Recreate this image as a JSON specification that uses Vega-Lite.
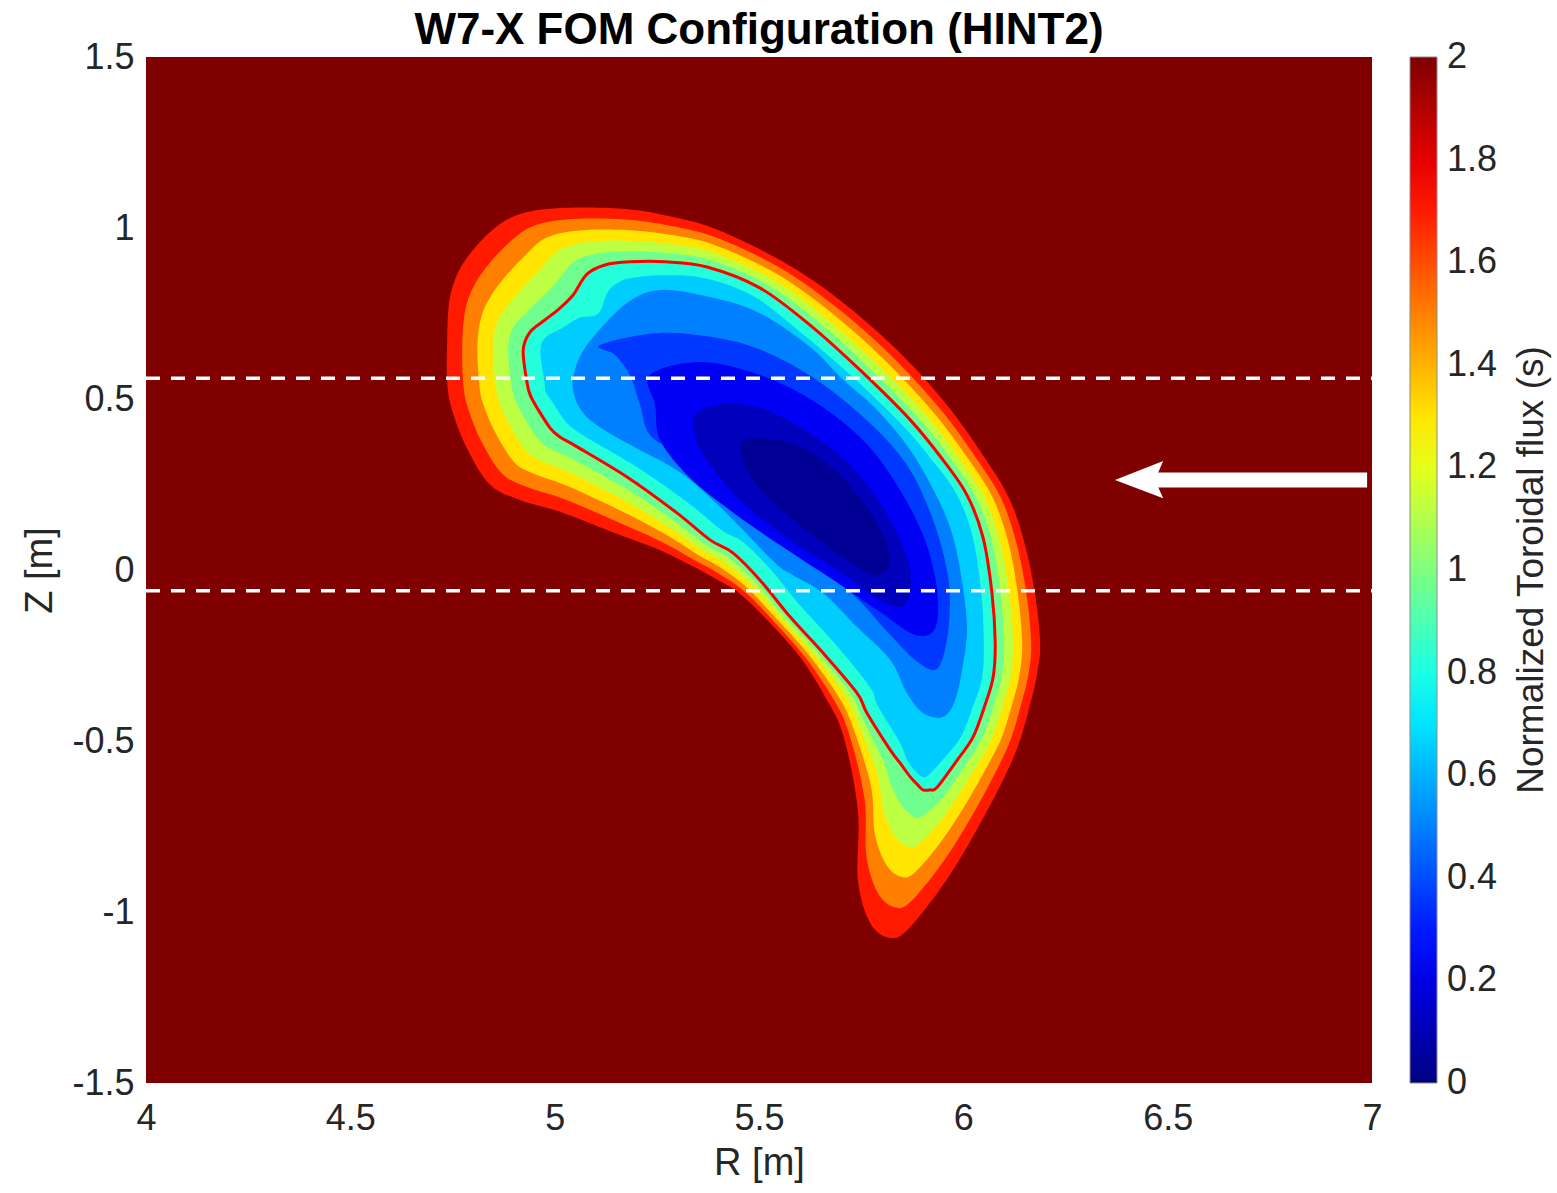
{
"$schema": "https://vega.github.io/schema/vega-lite/v6.json",
"width": 1226, "height": 1026,
"autosize": {"type": "none"},
"padding": {"left": 146, "top": 57, "right": 185, "bottom": 110},
"title": {"text": "W7-X FOM Configuration (HINT2)", "fontSize": 44, "fontWeight": "bold", "color": "#000000", "anchor": "middle", "offset": -14, "font": "Liberation Sans"},
"config": {"font": "Liberation Sans", "view": {"stroke": null},
  "axis": {"grid": false, "domain": false, "ticks": false, "labelColor": "#262626", "titleColor": "#262626", "labelFontSize": 36, "titleFontSize": 38, "titleFontWeight": "normal", "labelFlush": false, "format": "~g", "labelExpr": "replace(datum.label, '\u2212', '-')"}},
"datasets": {
"bg": [{"R": 4, "R2": 7, "Z": -1.5, "Z2": 1.5, "s": 2}],
"f10": [
{"i":1,"R":4.737,"Z":0.550,"s":1.7},{"i":2,"R":4.737,"Z":0.673,"s":1.7},{"i":3,"R":4.741,"Z":0.775,"s":1.7},{"i":4,"R":4.756,"Z":0.848,"s":1.7},{"i":5,"R":4.785,"Z":0.912,"s":1.7},{"i":6,"R":4.842,"Z":0.988,"s":1.7},{"i":7,"R":4.908,"Z":1.038,"s":1.7},{"i":8,"R":5.006,"Z":1.058,"s":1.7},{"i":9,"R":5.167,"Z":1.056,"s":1.7},{"i":10,"R":5.290,"Z":1.032,"s":1.7},{"i":11,"R":5.400,"Z":0.994,"s":1.7},{"i":12,"R":5.559,"Z":0.901,"s":1.7},{"i":13,"R":5.698,"Z":0.789,"s":1.7},{"i":14,"R":5.838,"Z":0.643,"s":1.7},{"i":15,"R":5.960,"Z":0.482,"s":1.7},{"i":16,"R":6.053,"Z":0.327,"s":1.7},{"i":17,"R":6.114,"Z":0.205,"s":1.7},{"i":18,"R":6.151,"Z":0.073,"s":1.7},{"i":19,"R":6.175,"Z":-0.067,"s":1.7},{"i":20,"R":6.188,"Z":-0.213,"s":1.7},{"i":21,"R":6.180,"Z":-0.307,"s":1.7},{"i":22,"R":6.163,"Z":-0.395,"s":1.7},{"i":23,"R":6.139,"Z":-0.497,"s":1.7},{"i":24,"R":6.109,"Z":-0.585,"s":1.7},{"i":25,"R":6.053,"Z":-0.716,"s":1.7},{"i":26,"R":5.967,"Z":-0.892,"s":1.7},{"i":27,"R":5.870,"Z":-1.044,"s":1.7},{"i":28,"R":5.821,"Z":-1.076,"s":1.7},{"i":29,"R":5.772,"Z":-1.032,"s":1.7},{"i":30,"R":5.742,"Z":-0.906,"s":1.7},{"i":31,"R":5.742,"Z":-0.702,"s":1.7},{"i":32,"R":5.706,"Z":-0.483,"s":1.7},{"i":33,"R":5.662,"Z":-0.371,"s":1.7},{"i":34,"R":5.600,"Z":-0.254,"s":1.7},{"i":35,"R":5.527,"Z":-0.155,"s":1.7},{"i":36,"R":5.454,"Z":-0.070,"s":1.7},{"i":37,"R":5.385,"Z":-0.020,"s":1.7},{"i":38,"R":5.331,"Z":0.015,"s":1.7},{"i":39,"R":5.258,"Z":0.058,"s":1.7},{"i":40,"R":5.160,"Z":0.102,"s":1.7},{"i":41,"R":5.013,"Z":0.170,"s":1.7},{"i":42,"R":4.915,"Z":0.205,"s":1.7},{"i":43,"R":4.842,"Z":0.249,"s":1.7},{"i":44,"R":4.785,"Z":0.357,"s":1.7},{"i":45,"R":4.749,"Z":0.468,"s":1.7}],
"f08": [
{"i":1,"R":4.776,"Z":0.550,"s":1.5},{"i":2,"R":4.774,"Z":0.667,"s":1.5},{"i":3,"R":4.781,"Z":0.759,"s":1.5},{"i":4,"R":4.800,"Z":0.825,"s":1.5},{"i":5,"R":4.831,"Z":0.883,"s":1.5},{"i":6,"R":4.883,"Z":0.951,"s":1.5},{"i":7,"R":4.942,"Z":1.003,"s":1.5},{"i":8,"R":5.029,"Z":1.025,"s":1.5},{"i":9,"R":5.170,"Z":1.025,"s":1.5},{"i":10,"R":5.286,"Z":1.006,"s":1.5},{"i":11,"R":5.395,"Z":0.972,"s":1.5},{"i":12,"R":5.548,"Z":0.886,"s":1.5},{"i":13,"R":5.683,"Z":0.774,"s":1.5},{"i":14,"R":5.820,"Z":0.631,"s":1.5},{"i":15,"R":5.942,"Z":0.473,"s":1.5},{"i":16,"R":6.032,"Z":0.326,"s":1.5},{"i":17,"R":6.093,"Z":0.208,"s":1.5},{"i":18,"R":6.130,"Z":0.078,"s":1.5},{"i":19,"R":6.154,"Z":-0.067,"s":1.5},{"i":20,"R":6.166,"Z":-0.213,"s":1.5},{"i":21,"R":6.159,"Z":-0.308,"s":1.5},{"i":22,"R":6.141,"Z":-0.395,"s":1.5},{"i":23,"R":6.116,"Z":-0.495,"s":1.5},{"i":24,"R":6.084,"Z":-0.579,"s":1.5},{"i":25,"R":6.030,"Z":-0.700,"s":1.5},{"i":26,"R":5.957,"Z":-0.842,"s":1.5},{"i":27,"R":5.876,"Z":-0.964,"s":1.5},{"i":28,"R":5.835,"Z":-0.987,"s":1.5},{"i":29,"R":5.792,"Z":-0.947,"s":1.5},{"i":30,"R":5.763,"Z":-0.838,"s":1.5},{"i":31,"R":5.758,"Z":-0.667,"s":1.5},{"i":32,"R":5.718,"Z":-0.470,"s":1.5},{"i":33,"R":5.678,"Z":-0.369,"s":1.5},{"i":34,"R":5.611,"Z":-0.252,"s":1.5},{"i":35,"R":5.537,"Z":-0.151,"s":1.5},{"i":36,"R":5.464,"Z":-0.062,"s":1.5},{"i":37,"R":5.395,"Z":-0.006,"s":1.5},{"i":38,"R":5.341,"Z":0.030,"s":1.5},{"i":39,"R":5.266,"Z":0.080,"s":1.5},{"i":40,"R":5.163,"Z":0.136,"s":1.5},{"i":41,"R":5.021,"Z":0.208,"s":1.5},{"i":42,"R":4.935,"Z":0.242,"s":1.5},{"i":43,"R":4.871,"Z":0.282,"s":1.5},{"i":44,"R":4.819,"Z":0.380,"s":1.5},{"i":45,"R":4.787,"Z":0.477,"s":1.5}],
"f06": [
{"i":1,"R":4.815,"Z":0.550,"s":1.3},{"i":2,"R":4.811,"Z":0.661,"s":1.3},{"i":3,"R":4.821,"Z":0.743,"s":1.3},{"i":4,"R":4.844,"Z":0.801,"s":1.3},{"i":5,"R":4.876,"Z":0.854,"s":1.3},{"i":6,"R":4.923,"Z":0.914,"s":1.3},{"i":7,"R":4.976,"Z":0.969,"s":1.3},{"i":8,"R":5.053,"Z":0.992,"s":1.3},{"i":9,"R":5.174,"Z":0.994,"s":1.3},{"i":10,"R":5.282,"Z":0.980,"s":1.3},{"i":11,"R":5.389,"Z":0.951,"s":1.3},{"i":12,"R":5.536,"Z":0.871,"s":1.3},{"i":13,"R":5.669,"Z":0.760,"s":1.3},{"i":14,"R":5.802,"Z":0.620,"s":1.3},{"i":15,"R":5.924,"Z":0.465,"s":1.3},{"i":16,"R":6.012,"Z":0.325,"s":1.3},{"i":17,"R":6.072,"Z":0.211,"s":1.3},{"i":18,"R":6.110,"Z":0.082,"s":1.3},{"i":19,"R":6.133,"Z":-0.067,"s":1.3},{"i":20,"R":6.144,"Z":-0.213,"s":1.3},{"i":21,"R":6.137,"Z":-0.309,"s":1.3},{"i":22,"R":6.119,"Z":-0.395,"s":1.3},{"i":23,"R":6.093,"Z":-0.493,"s":1.3},{"i":24,"R":6.059,"Z":-0.573,"s":1.3},{"i":25,"R":6.006,"Z":-0.684,"s":1.3},{"i":26,"R":5.947,"Z":-0.792,"s":1.3},{"i":27,"R":5.882,"Z":-0.884,"s":1.3},{"i":28,"R":5.848,"Z":-0.897,"s":1.3},{"i":29,"R":5.811,"Z":-0.861,"s":1.3},{"i":30,"R":5.783,"Z":-0.769,"s":1.3},{"i":31,"R":5.774,"Z":-0.632,"s":1.3},{"i":32,"R":5.729,"Z":-0.457,"s":1.3},{"i":33,"R":5.693,"Z":-0.367,"s":1.3},{"i":34,"R":5.623,"Z":-0.250,"s":1.3},{"i":35,"R":5.547,"Z":-0.148,"s":1.3},{"i":36,"R":5.473,"Z":-0.054,"s":1.3},{"i":37,"R":5.405,"Z":0.008,"s":1.3},{"i":38,"R":5.351,"Z":0.044,"s":1.3},{"i":39,"R":5.274,"Z":0.102,"s":1.3},{"i":40,"R":5.167,"Z":0.170,"s":1.3},{"i":41,"R":5.030,"Z":0.246,"s":1.3},{"i":42,"R":4.954,"Z":0.279,"s":1.3},{"i":43,"R":4.901,"Z":0.315,"s":1.3},{"i":44,"R":4.854,"Z":0.404,"s":1.3},{"i":45,"R":4.825,"Z":0.486,"s":1.3}],
"f04": [
{"i":1,"R":4.854,"Z":0.550,"s":1.12},{"i":2,"R":4.849,"Z":0.655,"s":1.12},{"i":3,"R":4.860,"Z":0.728,"s":1.12},{"i":4,"R":4.888,"Z":0.778,"s":1.12},{"i":5,"R":4.922,"Z":0.824,"s":1.12},{"i":6,"R":4.964,"Z":0.878,"s":1.12},{"i":7,"R":5.011,"Z":0.934,"s":1.12},{"i":8,"R":5.076,"Z":0.958,"s":1.12},{"i":9,"R":5.177,"Z":0.963,"s":1.12},{"i":10,"R":5.278,"Z":0.953,"s":1.12},{"i":11,"R":5.384,"Z":0.929,"s":1.12},{"i":12,"R":5.525,"Z":0.855,"s":1.12},{"i":13,"R":5.654,"Z":0.745,"s":1.12},{"i":14,"R":5.783,"Z":0.608,"s":1.12},{"i":15,"R":5.906,"Z":0.456,"s":1.12},{"i":16,"R":5.991,"Z":0.324,"s":1.12},{"i":17,"R":6.051,"Z":0.213,"s":1.12},{"i":18,"R":6.089,"Z":0.087,"s":1.12},{"i":19,"R":6.112,"Z":-0.067,"s":1.12},{"i":20,"R":6.122,"Z":-0.213,"s":1.12},{"i":21,"R":6.116,"Z":-0.311,"s":1.12},{"i":22,"R":6.097,"Z":-0.395,"s":1.12},{"i":23,"R":6.070,"Z":-0.492,"s":1.12},{"i":24,"R":6.035,"Z":-0.568,"s":1.12},{"i":25,"R":5.983,"Z":-0.667,"s":1.12},{"i":26,"R":5.938,"Z":-0.743,"s":1.12},{"i":27,"R":5.889,"Z":-0.803,"s":1.12},{"i":28,"R":5.862,"Z":-0.808,"s":1.12},{"i":29,"R":5.831,"Z":-0.776,"s":1.12},{"i":30,"R":5.804,"Z":-0.701,"s":1.12},{"i":31,"R":5.789,"Z":-0.596,"s":1.12},{"i":32,"R":5.741,"Z":-0.444,"s":1.12},{"i":33,"R":5.709,"Z":-0.364,"s":1.12},{"i":34,"R":5.634,"Z":-0.247,"s":1.12},{"i":35,"R":5.556,"Z":-0.144,"s":1.12},{"i":36,"R":5.483,"Z":-0.045,"s":1.12},{"i":37,"R":5.416,"Z":0.022,"s":1.12},{"i":38,"R":5.360,"Z":0.059,"s":1.12},{"i":39,"R":5.283,"Z":0.123,"s":1.12},{"i":40,"R":5.170,"Z":0.204,"s":1.12},{"i":41,"R":5.038,"Z":0.284,"s":1.12},{"i":42,"R":4.974,"Z":0.315,"s":1.12},{"i":43,"R":4.930,"Z":0.349,"s":1.12},{"i":44,"R":4.888,"Z":0.427,"s":1.12},{"i":45,"R":4.864,"Z":0.494,"s":1.12}],
"f02": [
{"i":1,"R":4.893,"Z":0.550,"s":0.97},{"i":2,"R":4.886,"Z":0.649,"s":0.97},{"i":3,"R":4.900,"Z":0.712,"s":0.97},{"i":4,"R":4.932,"Z":0.754,"s":0.97},{"i":5,"R":4.967,"Z":0.795,"s":0.97},{"i":6,"R":5.004,"Z":0.841,"s":0.97},{"i":7,"R":5.045,"Z":0.900,"s":0.97},{"i":8,"R":5.100,"Z":0.925,"s":0.97},{"i":9,"R":5.181,"Z":0.932,"s":0.97},{"i":10,"R":5.274,"Z":0.927,"s":0.97},{"i":11,"R":5.378,"Z":0.908,"s":0.97},{"i":12,"R":5.513,"Z":0.840,"s":0.97},{"i":13,"R":5.640,"Z":0.731,"s":0.97},{"i":14,"R":5.765,"Z":0.597,"s":0.97},{"i":15,"R":5.888,"Z":0.448,"s":0.97},{"i":16,"R":5.971,"Z":0.323,"s":0.97},{"i":17,"R":6.030,"Z":0.216,"s":0.97},{"i":18,"R":6.069,"Z":0.091,"s":0.97},{"i":19,"R":6.091,"Z":-0.067,"s":0.97},{"i":20,"R":6.100,"Z":-0.213,"s":0.97},{"i":21,"R":6.094,"Z":-0.312,"s":0.97},{"i":22,"R":6.075,"Z":-0.395,"s":0.97},{"i":23,"R":6.047,"Z":-0.490,"s":0.97},{"i":24,"R":6.010,"Z":-0.562,"s":0.97},{"i":25,"R":5.959,"Z":-0.651,"s":0.97},{"i":26,"R":5.928,"Z":-0.693,"s":0.97},{"i":27,"R":5.895,"Z":-0.723,"s":0.97},{"i":28,"R":5.875,"Z":-0.718,"s":0.97},{"i":29,"R":5.850,"Z":-0.690,"s":0.97},{"i":30,"R":5.824,"Z":-0.632,"s":0.97},{"i":31,"R":5.805,"Z":-0.561,"s":0.97},{"i":32,"R":5.752,"Z":-0.431,"s":0.97},{"i":33,"R":5.724,"Z":-0.362,"s":0.97},{"i":34,"R":5.646,"Z":-0.245,"s":0.97},{"i":35,"R":5.566,"Z":-0.141,"s":0.97},{"i":36,"R":5.492,"Z":-0.037,"s":0.97},{"i":37,"R":5.426,"Z":0.036,"s":0.97},{"i":38,"R":5.370,"Z":0.073,"s":0.97},{"i":39,"R":5.291,"Z":0.145,"s":0.97},{"i":40,"R":5.174,"Z":0.238,"s":0.97},{"i":41,"R":5.047,"Z":0.322,"s":0.97},{"i":42,"R":4.993,"Z":0.352,"s":0.97},{"i":43,"R":4.960,"Z":0.382,"s":0.97},{"i":44,"R":4.923,"Z":0.451,"s":0.97},{"i":45,"R":4.902,"Z":0.503,"s":0.97}],
"red": [
{"i":1,"R":4.932,"Z":0.550,"s":0.82},{"i":2,"R":4.923,"Z":0.643,"s":0.82},{"i":3,"R":4.940,"Z":0.696,"s":0.82},{"i":4,"R":4.976,"Z":0.731,"s":0.82},{"i":5,"R":5.013,"Z":0.766,"s":0.82},{"i":6,"R":5.045,"Z":0.804,"s":0.82},{"i":7,"R":5.079,"Z":0.865,"s":0.82},{"i":8,"R":5.123,"Z":0.892,"s":0.82},{"i":9,"R":5.184,"Z":0.901,"s":0.82},{"i":10,"R":5.270,"Z":0.901,"s":0.82},{"i":11,"R":5.373,"Z":0.886,"s":0.82},{"i":12,"R":5.502,"Z":0.825,"s":0.82},{"i":13,"R":5.625,"Z":0.716,"s":0.82},{"i":14,"R":5.747,"Z":0.585,"s":0.82},{"i":15,"R":5.870,"Z":0.439,"s":0.82},{"i":16,"R":5.950,"Z":0.322,"s":0.82},{"i":17,"R":6.009,"Z":0.219,"s":0.82},{"i":18,"R":6.048,"Z":0.096,"s":0.82},{"i":19,"R":6.070,"Z":-0.067,"s":0.82},{"i":20,"R":6.078,"Z":-0.213,"s":0.82},{"i":21,"R":6.073,"Z":-0.313,"s":0.82},{"i":22,"R":6.053,"Z":-0.395,"s":0.82},{"i":23,"R":6.024,"Z":-0.488,"s":0.82},{"i":24,"R":5.985,"Z":-0.556,"s":0.82},{"i":25,"R":5.936,"Z":-0.635,"s":0.82},{"i":26,"R":5.918,"Z":-0.643,"s":0.82},{"i":27,"R":5.901,"Z":-0.643,"s":0.82},{"i":28,"R":5.889,"Z":-0.629,"s":0.82},{"i":29,"R":5.870,"Z":-0.605,"s":0.82},{"i":30,"R":5.845,"Z":-0.564,"s":0.82},{"i":31,"R":5.821,"Z":-0.526,"s":0.82},{"i":32,"R":5.764,"Z":-0.418,"s":0.82},{"i":33,"R":5.740,"Z":-0.360,"s":0.82},{"i":34,"R":5.657,"Z":-0.243,"s":0.82},{"i":35,"R":5.576,"Z":-0.137,"s":0.82},{"i":36,"R":5.502,"Z":-0.029,"s":0.82},{"i":37,"R":5.436,"Z":0.050,"s":0.82},{"i":38,"R":5.380,"Z":0.088,"s":0.82},{"i":39,"R":5.299,"Z":0.167,"s":0.82},{"i":40,"R":5.177,"Z":0.272,"s":0.82},{"i":41,"R":5.055,"Z":0.360,"s":0.82},{"i":42,"R":5.013,"Z":0.389,"s":0.82},{"i":43,"R":4.989,"Z":0.415,"s":0.82},{"i":44,"R":4.957,"Z":0.474,"s":0.82},{"i":45,"R":4.940,"Z":0.512,"s":0.82}],
"in1": [
{"i":1,"R":4.975,"Z":0.550,"s":0.65},{"i":2,"R":4.965,"Z":0.640,"s":0.65},{"i":3,"R":4.978,"Z":0.680,"s":0.65},{"i":4,"R":5.020,"Z":0.708,"s":0.65},{"i":5,"R":5.059,"Z":0.737,"s":0.65},{"i":6,"R":5.106,"Z":0.749,"s":0.65},{"i":7,"R":5.130,"Z":0.813,"s":0.65},{"i":8,"R":5.158,"Z":0.842,"s":0.65},{"i":9,"R":5.189,"Z":0.854,"s":0.65},{"i":10,"R":5.264,"Z":0.862,"s":0.65},{"i":11,"R":5.365,"Z":0.854,"s":0.65},{"i":12,"R":5.485,"Z":0.802,"s":0.65},{"i":13,"R":5.603,"Z":0.694,"s":0.65},{"i":14,"R":5.724,"Z":0.570,"s":0.65},{"i":15,"R":5.847,"Z":0.428,"s":0.65},{"i":16,"R":5.924,"Z":0.321,"s":0.65},{"i":17,"R":5.983,"Z":0.223,"s":0.65},{"i":18,"R":6.022,"Z":0.102,"s":0.65},{"i":19,"R":6.044,"Z":-0.067,"s":0.65},{"i":20,"R":6.050,"Z":-0.213,"s":0.65},{"i":21,"R":6.046,"Z":-0.315,"s":0.65},{"i":22,"R":6.025,"Z":-0.395,"s":0.65},{"i":23,"R":5.995,"Z":-0.486,"s":0.65},{"i":24,"R":5.954,"Z":-0.549,"s":0.65},{"i":25,"R":5.915,"Z":-0.600,"s":0.65},{"i":26,"R":5.900,"Z":-0.605,"s":0.65},{"i":27,"R":5.882,"Z":-0.588,"s":0.65},{"i":28,"R":5.862,"Z":-0.555,"s":0.65},{"i":29,"R":5.845,"Z":-0.505,"s":0.65},{"i":30,"R":5.792,"Z":-0.400,"s":0.65},{"i":31,"R":5.770,"Z":-0.340,"s":0.65},{"i":32,"R":5.684,"Z":-0.213,"s":0.65},{"i":33,"R":5.603,"Z":-0.107,"s":0.65},{"i":34,"R":5.529,"Z":0.001,"s":0.65},{"i":35,"R":5.463,"Z":0.080,"s":0.65},{"i":36,"R":5.407,"Z":0.118,"s":0.65},{"i":37,"R":5.326,"Z":0.197,"s":0.65},{"i":38,"R":5.200,"Z":0.302,"s":0.65},{"i":39,"R":5.072,"Z":0.392,"s":0.65},{"i":40,"R":5.033,"Z":0.426,"s":0.65},{"i":41,"R":5.018,"Z":0.448,"s":0.65},{"i":42,"R":4.991,"Z":0.497,"s":0.65},{"i":43,"R":4.978,"Z":0.521,"s":0.65}],
"plat": [
{"i":1,"R":5.177,"Z":0.781,"s":0.5},{"i":2,"R":5.258,"Z":0.819,"s":0.5},{"i":3,"R":5.380,"Z":0.798,"s":0.5},{"i":4,"R":5.502,"Z":0.751,"s":0.5},{"i":5,"R":5.625,"Z":0.652,"s":0.5},{"i":6,"R":5.706,"Z":0.556,"s":0.5},{"i":7,"R":5.789,"Z":0.468,"s":0.5},{"i":8,"R":5.870,"Z":0.351,"s":0.5},{"i":9,"R":5.936,"Z":0.213,"s":0.5},{"i":10,"R":5.975,"Z":0.096,"s":0.5},{"i":11,"R":5.999,"Z":-0.050,"s":0.5},{"i":12,"R":6.009,"Z":-0.175,"s":0.5},{"i":13,"R":5.999,"Z":-0.278,"s":0.5},{"i":14,"R":5.980,"Z":-0.380,"s":0.5},{"i":15,"R":5.950,"Z":-0.430,"s":0.5},{"i":16,"R":5.901,"Z":-0.418,"s":0.5},{"i":17,"R":5.862,"Z":-0.360,"s":0.5},{"i":18,"R":5.821,"Z":-0.263,"s":0.5},{"i":19,"R":5.740,"Z":-0.167,"s":0.5},{"i":20,"R":5.657,"Z":-0.067,"s":0.5},{"i":21,"R":5.583,"Z":-0.015,"s":0.5},{"i":22,"R":5.544,"Z":0.015,"s":0.5},{"i":23,"R":5.461,"Z":0.117,"s":0.5},{"i":24,"R":5.380,"Z":0.213,"s":0.5},{"i":25,"R":5.299,"Z":0.292,"s":0.5},{"i":26,"R":5.177,"Z":0.371,"s":0.5},{"i":27,"R":5.079,"Z":0.447,"s":0.5},{"i":28,"R":5.045,"Z":0.526,"s":0.5},{"i":29,"R":5.055,"Z":0.605,"s":0.5},{"i":30,"R":5.094,"Z":0.681,"s":0.5}],
"deep": [
{"i":1,"R":5.111,"Z":0.658,"s":0.36},{"i":2,"R":5.258,"Z":0.693,"s":0.36},{"i":3,"R":5.422,"Z":0.673,"s":0.36},{"i":4,"R":5.544,"Z":0.623,"s":0.36},{"i":5,"R":5.666,"Z":0.535,"s":0.36},{"i":6,"R":5.789,"Z":0.409,"s":0.36},{"i":7,"R":5.870,"Z":0.292,"s":0.36},{"i":8,"R":5.926,"Z":0.146,"s":0.36},{"i":9,"R":5.960,"Z":0.000,"s":0.36},{"i":10,"R":5.967,"Z":-0.117,"s":0.36},{"i":11,"R":5.955,"Z":-0.234,"s":0.36},{"i":12,"R":5.931,"Z":-0.292,"s":0.36},{"i":13,"R":5.882,"Z":-0.263,"s":0.36},{"i":14,"R":5.821,"Z":-0.190,"s":0.36},{"i":15,"R":5.723,"Z":-0.064,"s":0.36},{"i":16,"R":5.600,"Z":0.035,"s":0.36},{"i":17,"R":5.502,"Z":0.132,"s":0.36},{"i":18,"R":5.405,"Z":0.240,"s":0.36},{"i":19,"R":5.307,"Z":0.336,"s":0.36},{"i":20,"R":5.233,"Z":0.395,"s":0.36},{"i":21,"R":5.209,"Z":0.482,"s":0.36},{"i":22,"R":5.184,"Z":0.570,"s":0.36},{"i":23,"R":5.148,"Z":0.629,"s":0.36}],
"blue": [
{"i":1,"R":5.233,"Z":0.570,"s":0.23},{"i":2,"R":5.356,"Z":0.608,"s":0.23},{"i":3,"R":5.502,"Z":0.570,"s":0.23},{"i":4,"R":5.637,"Z":0.491,"s":0.23},{"i":5,"R":5.759,"Z":0.374,"s":0.23},{"i":6,"R":5.845,"Z":0.234,"s":0.23},{"i":7,"R":5.906,"Z":0.088,"s":0.23},{"i":8,"R":5.936,"Z":-0.059,"s":0.23},{"i":9,"R":5.931,"Z":-0.170,"s":0.23},{"i":10,"R":5.882,"Z":-0.190,"s":0.23},{"i":11,"R":5.796,"Z":-0.123,"s":0.23},{"i":12,"R":5.674,"Z":-0.023,"s":0.23},{"i":13,"R":5.551,"Z":0.073,"s":0.23},{"i":14,"R":5.429,"Z":0.175,"s":0.23},{"i":15,"R":5.331,"Z":0.269,"s":0.23},{"i":16,"R":5.258,"Z":0.380,"s":0.23},{"i":17,"R":5.246,"Z":0.482,"s":0.23}],
"dark": [
{"i":1,"R":5.356,"Z":0.468,"s":0.12},{"i":2,"R":5.478,"Z":0.482,"s":0.12},{"i":3,"R":5.613,"Z":0.409,"s":0.12},{"i":4,"R":5.735,"Z":0.292,"s":0.12},{"i":5,"R":5.821,"Z":0.146,"s":0.12},{"i":6,"R":5.870,"Z":0.000,"s":0.12},{"i":7,"R":5.857,"Z":-0.102,"s":0.12},{"i":8,"R":5.796,"Z":-0.088,"s":0.12},{"i":9,"R":5.698,"Z":-0.006,"s":0.12},{"i":10,"R":5.576,"Z":0.088,"s":0.12},{"i":11,"R":5.466,"Z":0.190,"s":0.12},{"i":12,"R":5.380,"Z":0.307,"s":0.12},{"i":13,"R":5.343,"Z":0.395,"s":0.12}],
"core": [
{"i":1,"R":5.466,"Z":0.380,"s":0.04},{"i":2,"R":5.588,"Z":0.366,"s":0.04},{"i":3,"R":5.698,"Z":0.278,"s":0.04},{"i":4,"R":5.784,"Z":0.146,"s":0.04},{"i":5,"R":5.821,"Z":0.029,"s":0.04},{"i":6,"R":5.784,"Z":-0.015,"s":0.04},{"i":7,"R":5.698,"Z":0.044,"s":0.04},{"i":8,"R":5.600,"Z":0.132,"s":0.04},{"i":9,"R":5.515,"Z":0.219,"s":0.04},{"i":10,"R":5.466,"Z":0.307,"s":0.04}],
"dash": [{"R": 4, "R2": 7, "Z": 0.561}, {"R": 4, "R2": 7, "Z": -0.061}],
"shaft": [{"R": 6.466, "R2": 6.988, "Z": 0.263}],
"head": [{"i":1,"R":6.371,"Z":0.263},{"i":2,"R":6.489,"Z":0.319},{"i":3,"R":6.469,"Z":0.263},{"i":4,"R":6.489,"Z":0.210}]
},
"encoding": {
  "x": {"field": "R", "type": "quantitative", "scale": {"domain": [4, 7], "nice": false, "zero": false},
        "axis": {"title": "R [m]", "values": [4, 4.5, 5, 5.5, 6, 6.5, 7], "labelPadding": 18, "titlePadding": 8}},
  "y": {"field": "Z", "type": "quantitative", "scale": {"domain": [-1.5, 1.5], "nice": false, "zero": false},
        "axis": {"title": "Z [m]", "values": [-1.5, -1, -0.5, 0, 0.5, 1, 1.5], "labelPadding": 12, "titlePadding": 12}}
},
"layer": [
  {"data": {"name": "bg"}, "mark": {"type": "rect"},
   "encoding": {"x2": {"field": "R2"}, "y2": {"field": "Z2"},
     "color": {"field": "s", "type": "quantitative",
       "scale": {"type": "linear", "domain": [0, 0.25, 0.75, 1.25, 1.75, 2], "range": ["#000080", "#0000ff", "#00ffff", "#ffff00", "#ff0000", "#800000"], "interpolate": "rgb"},
       "legend": {"title": "Normalized Toroidal flux (s)", "orient": "right", "offset": 38, "padding": 0,
         "values": [0, 0.2, 0.4, 0.6, 0.8, 1, 1.2, 1.4, 1.6, 1.8, 2], "format": "~g",
         "gradientLength": 1026, "gradientThickness": 27, "gradientStrokeColor": "#8c8c8c", "gradientStrokeWidth": 1,
         "labelFontSize": 36, "labelColor": "#262626", "labelOffset": 10, "labelOverlap": false,
         "titleOrient": "right", "titleFontSize": 37, "titleFontWeight": "normal", "titleColor": "#262626", "titleAnchor": "middle", "titlePadding": 17, "titleLimit": 2000,
         "encode": {"labels": {"update": {"baseline": {"value": "middle"}}}, "title": {"update": {"angle": {"value": 270}, "baseline": {"value": "top"}}}}}}}},
  {"data": {"name": "f10"}, "mark": {"type": "line", "filled": true, "interpolate": "cardinal-closed"}, "encoding": {"order": {"field": "i"}, "color": {"field": "s", "type": "quantitative"}}},
  {"data": {"name": "f08"}, "mark": {"type": "line", "filled": true, "interpolate": "cardinal-closed"}, "encoding": {"order": {"field": "i"}, "color": {"field": "s", "type": "quantitative"}}},
  {"data": {"name": "f06"}, "mark": {"type": "line", "filled": true, "interpolate": "cardinal-closed"}, "encoding": {"order": {"field": "i"}, "color": {"field": "s", "type": "quantitative"}}},
  {"data": {"name": "f04"}, "mark": {"type": "line", "filled": true, "interpolate": "cardinal-closed"}, "encoding": {"order": {"field": "i"}, "color": {"field": "s", "type": "quantitative"}}},
  {"data": {"name": "f02"}, "mark": {"type": "line", "filled": true, "interpolate": "cardinal-closed"}, "encoding": {"order": {"field": "i"}, "color": {"field": "s", "type": "quantitative"}}},
  {"data": {"name": "red"}, "mark": {"type": "line", "filled": true, "interpolate": "cardinal-closed"}, "encoding": {"order": {"field": "i"}, "color": {"field": "s", "type": "quantitative"}}},
  {"data": {"name": "in1"}, "mark": {"type": "line", "filled": true, "interpolate": "cardinal-closed"}, "encoding": {"order": {"field": "i"}, "color": {"field": "s", "type": "quantitative"}}},
  {"data": {"name": "plat"}, "mark": {"type": "line", "filled": true, "interpolate": "cardinal-closed"}, "encoding": {"order": {"field": "i"}, "color": {"field": "s", "type": "quantitative"}}},
  {"data": {"name": "deep"}, "mark": {"type": "line", "filled": true, "interpolate": "cardinal-closed"}, "encoding": {"order": {"field": "i"}, "color": {"field": "s", "type": "quantitative"}}},
  {"data": {"name": "blue"}, "mark": {"type": "line", "filled": true, "interpolate": "cardinal-closed"}, "encoding": {"order": {"field": "i"}, "color": {"field": "s", "type": "quantitative"}}},
  {"data": {"name": "dark"}, "mark": {"type": "line", "filled": true, "interpolate": "cardinal-closed"}, "encoding": {"order": {"field": "i"}, "color": {"field": "s", "type": "quantitative"}}},
  {"data": {"name": "core"}, "mark": {"type": "line", "filled": true, "interpolate": "cardinal-closed"}, "encoding": {"order": {"field": "i"}, "color": {"field": "s", "type": "quantitative"}}},
  {"data": {"name": "red"}, "mark": {"type": "line", "interpolate": "cardinal-closed", "color": "#ff0000", "strokeWidth": 3}, "encoding": {"order": {"field": "i"}}},
  {"data": {"name": "dash"}, "mark": {"type": "rule", "color": "#ffffff", "strokeWidth": 3.5, "strokeDash": [14, 11]}, "encoding": {"x2": {"field": "R2"}}},
  {"data": {"name": "shaft"}, "mark": {"type": "rule", "color": "#ffffff", "strokeWidth": 15, "strokeCap": "butt"}, "encoding": {"x2": {"field": "R2"}}},
  {"data": {"name": "head"}, "mark": {"type": "line", "filled": true, "interpolate": "linear-closed", "color": "#ffffff"}, "encoding": {"order": {"field": "i"}}}
]
}
